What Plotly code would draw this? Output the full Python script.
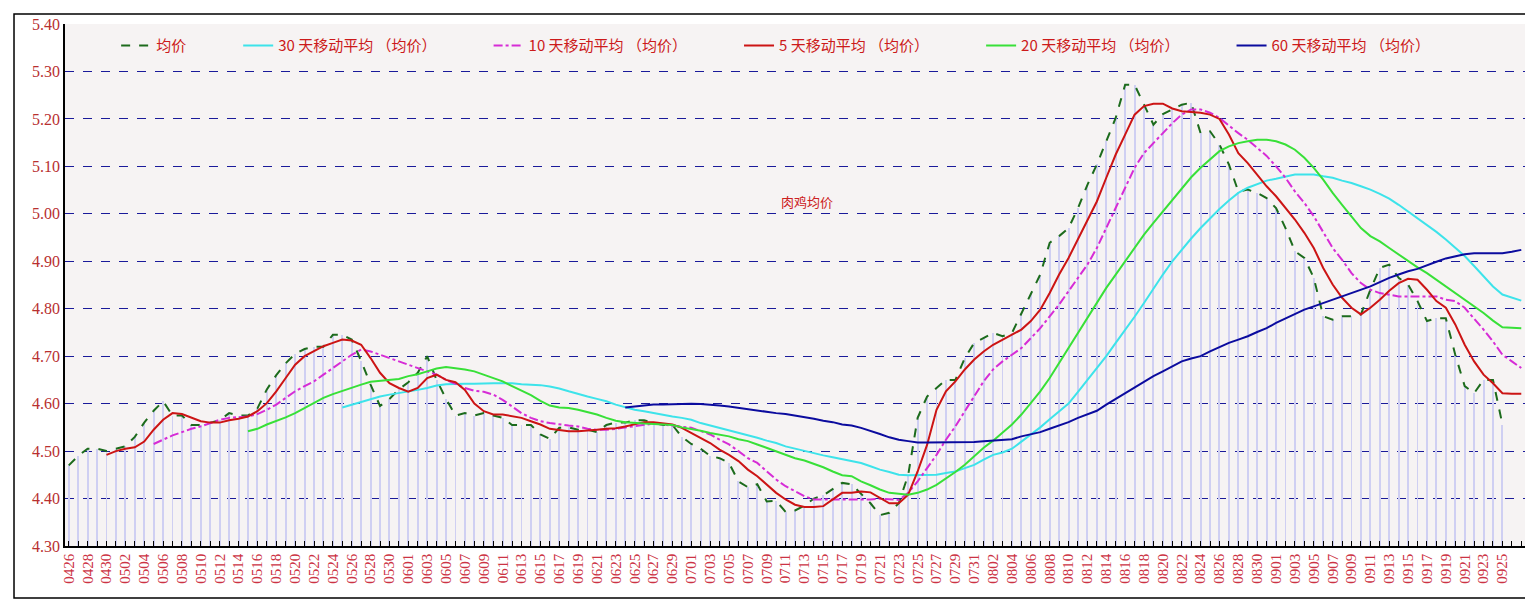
import pandas as pd
from plotly import graph_objects as go

dates = list(pd.date_range("2024-04-26", "2024-09-27").strftime("%m%d"))

price = [4.47, 4.49, 4.505, 4.505, 4.50, 4.505, 4.51, 4.53, 4.56, 4.585,
         4.605, 4.575, 4.575, 4.555, 4.555, 4.56, 4.565, 4.58, 4.575, 4.575,
         4.59, 4.63, 4.66, 4.685, 4.705, 4.715, 4.72, 4.72, 4.745, 4.745,
         4.735, 4.69, 4.64, 4.595, 4.61, 4.63, 4.645, 4.665, 4.70, 4.65,
         4.61, 4.575, 4.58, 4.575, 4.58, 4.575, 4.57, 4.555, 4.555, 4.555,
         4.535, 4.526, 4.549, 4.55, 4.545, 4.545, 4.54, 4.555, 4.56, 4.56,
         4.565, 4.565, 4.56, 4.555, 4.555, 4.53, 4.515, 4.505, 4.49, 4.485,
         4.475, 4.436, 4.424, 4.43, 4.394, 4.395, 4.372, 4.375, 4.385, 4.40,
         4.407, 4.42, 4.433, 4.43, 4.41, 4.39, 4.365, 4.37, 4.39, 4.45,
         4.57, 4.615, 4.633, 4.65, 4.65, 4.696, 4.728, 4.738, 4.749, 4.742,
         4.749, 4.79, 4.83, 4.872, 4.939, 4.953, 4.97, 5.012, 5.061, 5.104,
         5.153, 5.202, 5.272, 5.272, 5.23, 5.188, 5.21, 5.22, 5.23, 5.234,
         5.17, 5.174, 5.146, 5.104, 5.047, 5.051, 5.044, 5.033, 5.012, 4.97,
         4.921, 4.907, 4.865, 4.784, 4.777, 4.784, 4.784, 4.788, 4.84, 4.886,
         4.893, 4.865, 4.851, 4.816, 4.774, 4.78, 4.78, 4.703, 4.637, 4.622,
         4.65, 4.65, 4.556]

ma5 = [4.492, 4.50, 4.505, 4.508, 4.52, 4.545, 4.566, 4.58, 4.578, 4.57,
       4.563, 4.56, 4.56, 4.565, 4.568, 4.573, 4.584, 4.601, 4.626, 4.654,
       4.682, 4.70, 4.71, 4.721, 4.728, 4.735, 4.733, 4.724, 4.696, 4.665,
       4.643, 4.633, 4.625, 4.633, 4.654, 4.661, 4.65, 4.645, 4.629, 4.60,
       4.584, 4.577, 4.577, 4.573, 4.57, 4.563, 4.556, 4.547, 4.545, 4.542,
       4.542, 4.543, 4.545, 4.547, 4.548, 4.552, 4.557, 4.561, 4.561, 4.559,
       4.556, 4.549, 4.538, 4.528, 4.517, 4.503, 4.492, 4.479, 4.461, 4.447,
       4.429, 4.412, 4.398, 4.387, 4.382, 4.382, 4.384, 4.398, 4.412, 4.412,
       4.415, 4.413, 4.401, 4.39, 4.39, 4.408, 4.457, 4.513, 4.587, 4.626,
       4.647, 4.672, 4.693, 4.71, 4.724, 4.735, 4.745, 4.756, 4.774, 4.798,
       4.833, 4.872, 4.907, 4.946, 4.984, 5.026, 5.076, 5.125, 5.167, 5.209,
       5.227, 5.232, 5.232, 5.222, 5.216, 5.215, 5.213, 5.209, 5.20, 5.167,
       5.128, 5.107, 5.083, 5.058, 5.037, 5.012, 4.988, 4.96, 4.928, 4.886,
       4.851, 4.823, 4.802, 4.788, 4.802, 4.819, 4.838, 4.854, 4.863, 4.861,
       4.84, 4.816, 4.802, 4.767, 4.724, 4.689, 4.661, 4.643, 4.622, 4.621, 4.621]

ma10 = [4.515, 4.524, 4.533, 4.54, 4.547, 4.552, 4.559, 4.566, 4.57, 4.571,
        4.573, 4.578, 4.587, 4.598, 4.612, 4.626, 4.637, 4.647, 4.661, 4.675,
        4.689, 4.703, 4.714, 4.71, 4.703, 4.696, 4.689, 4.682, 4.675, 4.668,
        4.661, 4.65, 4.641, 4.633, 4.627, 4.625, 4.619, 4.608, 4.594, 4.58,
        4.57, 4.563, 4.559, 4.556, 4.554, 4.552, 4.547, 4.545, 4.545, 4.547,
        4.55, 4.552, 4.556, 4.558, 4.556, 4.554, 4.552, 4.549, 4.542, 4.535,
        4.524, 4.514, 4.50, 4.485, 4.475, 4.457, 4.44, 4.426, 4.415, 4.405,
        4.398, 4.398, 4.398, 4.398, 4.398, 4.398, 4.398, 4.40, 4.398, 4.397,
        4.412, 4.436, 4.464, 4.492, 4.524, 4.552, 4.584, 4.615, 4.647, 4.672,
        4.689, 4.703, 4.717, 4.738, 4.759, 4.784, 4.809, 4.837, 4.865, 4.893,
        4.928, 4.97, 5.012, 5.055, 5.097, 5.128, 5.149, 5.17, 5.191, 5.209,
        5.22, 5.22, 5.213, 5.202, 5.185, 5.17, 5.156, 5.139, 5.122, 5.10,
        5.076, 5.047, 5.023, 4.995, 4.963, 4.928, 4.903, 4.875, 4.854, 4.84,
        4.833, 4.83, 4.826, 4.826, 4.826, 4.826, 4.826, 4.819, 4.816, 4.802,
        4.78, 4.756, 4.731, 4.703, 4.689, 4.675]

ma20 = [4.542, 4.547, 4.556, 4.563, 4.571, 4.58, 4.591, 4.601, 4.612, 4.62,
        4.627, 4.633, 4.64, 4.646, 4.648, 4.65, 4.652, 4.658, 4.662, 4.668,
        4.674, 4.677, 4.675, 4.672, 4.668, 4.661, 4.654, 4.647, 4.637, 4.627,
        4.618, 4.606, 4.596, 4.592, 4.591, 4.587, 4.582, 4.577, 4.57, 4.564,
        4.561, 4.559, 4.558, 4.557, 4.556, 4.555, 4.55, 4.547, 4.543, 4.538,
        4.535, 4.531, 4.525, 4.521, 4.514, 4.507, 4.50, 4.492, 4.485, 4.48,
        4.473, 4.466, 4.457, 4.449, 4.447, 4.436, 4.428, 4.419, 4.412, 4.41,
        4.408, 4.412, 4.419, 4.429, 4.442, 4.456, 4.471, 4.489, 4.507, 4.522,
        4.538, 4.556, 4.577, 4.601, 4.626, 4.654, 4.686, 4.717, 4.749, 4.78,
        4.812, 4.844, 4.872, 4.90, 4.928, 4.956, 4.981, 5.005, 5.03, 5.055,
        5.077, 5.097, 5.115, 5.132, 5.142, 5.149, 5.153, 5.156, 5.156, 5.153,
        5.146, 5.135, 5.118, 5.097, 5.072, 5.044, 5.019, 4.995, 4.97, 4.953,
        4.942, 4.928, 4.914, 4.90, 4.887, 4.875, 4.861, 4.847, 4.833, 4.819,
        4.805, 4.791, 4.775, 4.761, 4.76, 4.759]

ma30 = [4.592, 4.598, 4.603, 4.61, 4.615, 4.619, 4.622, 4.626, 4.629, 4.633,
        4.638, 4.641, 4.642, 4.642, 4.642, 4.643, 4.643, 4.643, 4.643, 4.641,
        4.64, 4.639, 4.636, 4.632, 4.626, 4.62, 4.615, 4.61, 4.605, 4.598,
        4.592, 4.587, 4.584, 4.58, 4.577, 4.573, 4.57, 4.566, 4.559, 4.554,
        4.549, 4.543, 4.538, 4.533, 4.528, 4.522, 4.517, 4.51, 4.505, 4.50,
        4.495, 4.491, 4.487, 4.483, 4.48, 4.475, 4.468, 4.461, 4.456, 4.45,
        4.449, 4.449, 4.449, 4.45, 4.454, 4.457, 4.464, 4.471, 4.482, 4.492,
        4.497, 4.505, 4.52, 4.535, 4.55, 4.567, 4.583, 4.60, 4.625, 4.65,
        4.675, 4.70, 4.728, 4.755, 4.783, 4.812, 4.843, 4.872, 4.90, 4.925,
        4.948, 4.97, 4.991, 5.01, 5.028, 5.044, 5.055, 5.063, 5.07, 5.074,
        5.079, 5.083, 5.083, 5.083, 5.079, 5.076, 5.07, 5.065, 5.058, 5.051,
        5.042, 5.032, 5.019, 5.005, 4.991, 4.976, 4.962, 4.946, 4.928, 4.911,
        4.89, 4.868, 4.847, 4.83, 4.823, 4.817]

ma60 = [4.592, 4.594, 4.596, 4.598, 4.598, 4.599, 4.60, 4.60, 4.599, 4.598,
        4.596, 4.594, 4.591, 4.589, 4.586, 4.583, 4.58, 4.578, 4.575, 4.571,
        4.568, 4.564, 4.561, 4.556, 4.554, 4.549, 4.543, 4.536, 4.529, 4.524,
        4.521, 4.518, 4.518, 4.518, 4.518, 4.518, 4.518, 4.519, 4.521, 4.522,
        4.524, 4.525, 4.531, 4.536, 4.54, 4.547, 4.554, 4.561, 4.57, 4.577,
        4.585, 4.598, 4.61, 4.622, 4.634, 4.647, 4.658, 4.668, 4.679, 4.689,
        4.695, 4.70, 4.71, 4.719, 4.728, 4.735, 4.742, 4.751, 4.759, 4.77,
        4.779, 4.788, 4.798, 4.805, 4.812, 4.819, 4.826, 4.833, 4.84, 4.847,
        4.856, 4.865, 4.872, 4.879, 4.884, 4.892, 4.899, 4.906, 4.911, 4.915,
        4.917, 4.917, 4.917, 4.917, 4.92, 4.924]

n = len(dates)
x = list(range(n))


def pad(vals, tail=0):
    # moving averages start late; align them so they end on the last date
    return [None] * (n - len(vals) - tail) + vals + [None] * tail


fig = go.Figure()

# thin bars behind the lines, one per day
fig.add_trace(go.Bar(x=x, y=pad(price, 2), width=0.1, marker=dict(color="#cfcff2", line_width=0),
                     showlegend=False, hoverinfo="skip"))

series = [
    ("均价", pad(price, 2), "#1c6b1c", "dash"),
    ("30 天移动平均 （均价）", pad(ma30), "#3de3ea", "solid"),
    ("10 天移动平均 （均价）", pad(ma10), "#d62cd6", "dashdot"),
    ("5 天移动平均 （均价）", pad(ma5), "#cc1414", "solid"),
    ("20 天移动平均 （均价）", pad(ma20), "#38e038", "solid"),
    ("60 天移动平均 （均价）", pad(ma60), "#0b0b9e", "solid"),
]
for name, y, color, dash in series:
    fig.add_trace(go.Scatter(x=x, y=y, name=name + "\u00a0" * 14, mode="lines",
                             line=dict(color=color, width=2, dash=dash)))

fig.add_annotation(x=0.508, y=0.66, xref="paper", yref="paper", text="肉鸡均价", showarrow=False,
                   font=dict(family="Noto Sans CJK SC", size=13, color="#cc2020"))

fig.update_layout(
    width=1533, height=616,
    margin=dict(l=57, r=15, t=16, b=78),
    paper_bgcolor="white",
    plot_bgcolor="#f6f3f3",
    bargap=0,
    showlegend=True,
    legend=dict(orientation="h", x=0.035, y=0.99, xanchor="left", yanchor="top",
                bgcolor="rgba(0,0,0,0)", itemwidth=30,
                font=dict(family="Noto Sans CJK SC", size=15, color="#cc1a1a")),
    xaxis=dict(range=[-0.4, n - 0.5], tickvals=x[:153:2], ticktext=dates[:153:2], tickangle=-90,
               automargin=False,
               showgrid=False, zeroline=False, showline=True, linecolor="black", linewidth=1.5,
               ticks="inside", ticklen=5, tickcolor="black",
               minor=dict(dtick=1, ticks="inside", ticklen=5, tickcolor="black"),
               tickfont=dict(family="Liberation Serif", size=15, color="#cc3344")),
    yaxis=dict(range=[4.30, 5.40], dtick=0.1, tickformat=".2f", automargin=False,
               showgrid=True, gridcolor="#1a1a9a", griddash="dash", gridwidth=1,
               zeroline=False, showline=True, linecolor="black", linewidth=1.5,
               tickfont=dict(family="Liberation Serif", size=16, color="#b83030")),
    shapes=[dict(type="rect", xref="paper", yref="paper", x0=-0.0349, x1=1.0055, y0=-0.0996, y1=1.019,
                 line=dict(color="black", width=1.5))],
)

fig.write_html("out.html")
